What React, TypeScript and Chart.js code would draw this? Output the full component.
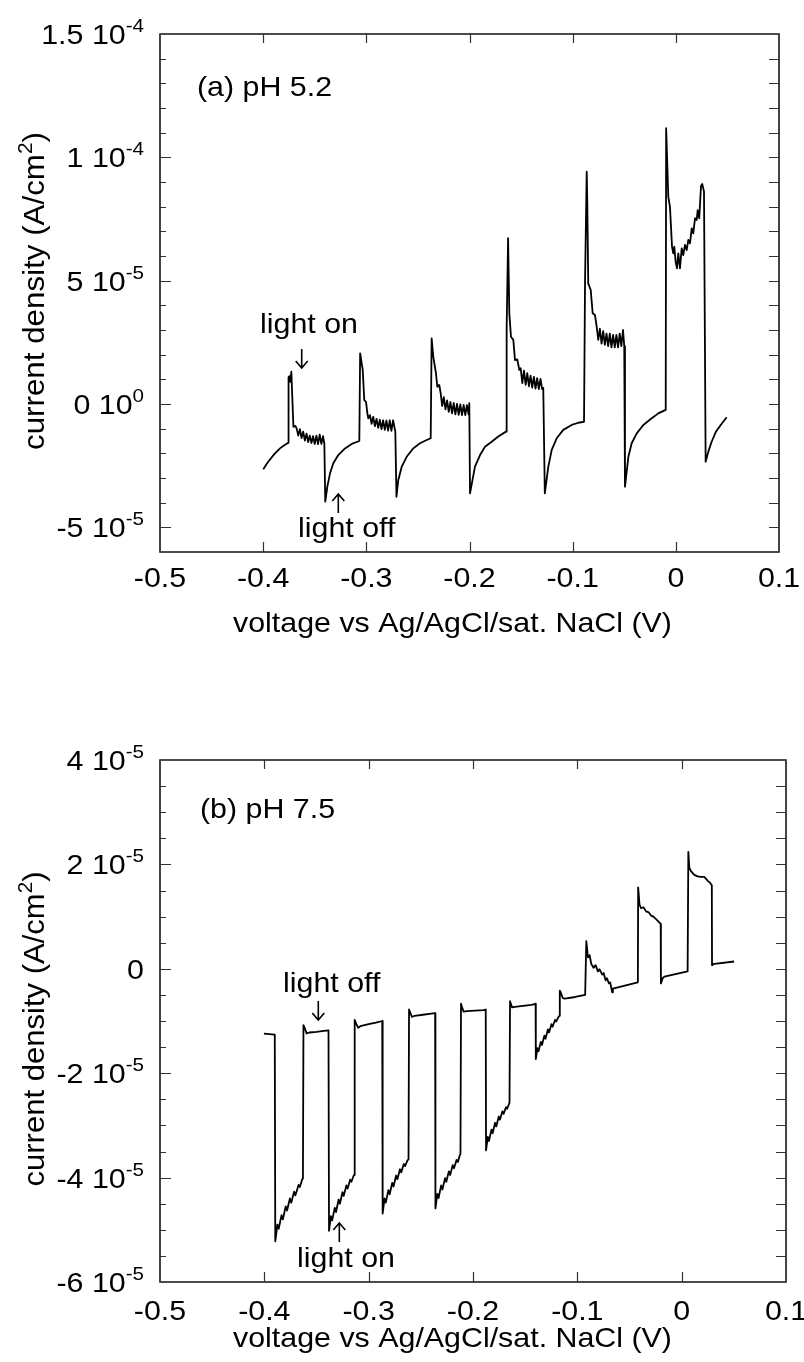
import React, { useEffect, useRef } from "react";
import { Chart, registerables } from "chart.js";

Chart.register(...registerables);

// ---------- DATA ----------
// Panel (a) pH 5.2 : voltage (V vs Ag/AgCl) and current density (units of 1e-5 A/cm²)
const voltageA = [
  -0.3999, -0.397, -0.3934, -0.389, -0.3837, -0.3795, -0.3756,
  -0.3754, -0.3745, -0.3737, -0.3727, -0.3707, -0.3688, -0.3675,
  -0.366, -0.3644, -0.3628, -0.3612, -0.3596, -0.358, -0.3564, -0.3548, -0.3532,
  -0.3516, -0.35, -0.3484, -0.3468, -0.3452, -0.3436, -0.342, -0.3407,
  -0.3398, -0.3378, -0.3352, -0.332, -0.3272, -0.3207, -0.3142, -0.3068,
  -0.306, -0.3035, -0.302, -0.3003, -0.299,
  -0.2981, -0.2965, -0.2949, -0.2933, -0.2917, -0.2901, -0.2885, -0.2869, -0.2853,
  -0.2837, -0.2821, -0.2805, -0.2789, -0.2773, -0.2757, -0.2741, -0.2719,
  -0.2708, -0.269, -0.2657, -0.2609, -0.2545, -0.248, -0.2415, -0.2376,
  -0.2367, -0.2351, -0.2325, -0.2312, -0.2293, -0.2279,
  -0.2265, -0.2249, -0.2233, -0.2217, -0.2201, -0.2185, -0.2169, -0.2153, -0.2137,
  -0.2121, -0.2105, -0.2089, -0.2073, -0.2057, -0.2041, -0.2025, -0.2009, -0.2002,
  -0.1995, -0.1947, -0.1898, -0.185, -0.1785, -0.1721, -0.1646,
  -0.164, -0.1626, -0.1614, -0.1598, -0.1575, -0.1559, -0.1537, -0.1517,
  -0.1504, -0.1488, -0.1472, -0.1456, -0.144, -0.1424, -0.1408, -0.1392,
  -0.1376, -0.136, -0.1344, -0.1328, -0.1312, -0.1296, -0.1285,
  -0.127, -0.1236, -0.1203, -0.1155, -0.1091, -0.101, -0.0945, -0.089,
  -0.088, -0.0864, -0.0858, -0.0849, -0.0825, -0.0806, -0.0784, -0.0767,
  -0.0752, -0.0736, -0.072, -0.0704, -0.0688, -0.0672, -0.0656, -0.064, -0.0624,
  -0.0608, -0.0592, -0.0576, -0.056, -0.0544, -0.0528, -0.0512, -0.05,
  -0.0493, -0.046, -0.0428, -0.0379, -0.0315, -0.0234, -0.017, -0.0098,
  -0.0094, -0.0079, -0.0073, -0.0057, -0.0047, -0.0037, -0.0025, -0.0015, -0.0002,
  0.0011, 0.0024, 0.004, 0.0057, 0.0072, 0.0089, 0.0105, 0.0121, 0.0137, 0.0154,
  0.0169, 0.0186, 0.0202, 0.0212, 0.0227, 0.0244, 0.0256, 0.0273,
  0.0289, 0.0315, 0.0347, 0.0389, 0.0435, 0.0493,
];
const currentA = [
  -2.65, -2.45, -2.25, -2.02, -1.8, -1.67, -1.57,
  1.08, 1.13, 0.9, 1.31, -0.92, -0.89, -1.0,
  -1.28, -1.02, -1.38, -1.12, -1.48, -1.2, -1.54, -1.28, -1.58,
  -1.3, -1.62, -1.28, -1.63, -1.24, -1.62, -1.3, -1.6,
  -3.96, -3.35, -2.81, -2.4, -2.07, -1.8, -1.62, -1.5,
  2.05, 1.38, 0.16, 0.09, -0.38,
  -0.58, -0.45, -0.8, -0.52, -0.9, -0.6, -0.97, -0.64, -1.02,
  -0.66, -1.05, -0.67, -1.08, -0.66, -1.09, -0.66, -1.12,
  -3.76, -3.08, -2.54, -2.14, -1.8, -1.59, -1.46, -1.39,
  2.66, 1.92, 1.24, 0.7, 0.77, 0.43,
  -0.08, 0.28, -0.22, 0.15, -0.32, 0.08, -0.38, 0.04, -0.42,
  0.0, -0.44, -0.02, -0.45, -0.04, -0.45, -0.05, -0.42, 0.03,
  -3.62, -2.54, -2.07, -1.73, -1.53, -1.32, -1.12,
  3.0, 6.72, 3.68, 2.73, 2.59, 1.78, 1.81, 1.38,
  1.45, 0.85, 1.35, 0.78, 1.25, 0.72, 1.15, 0.66,
  1.1, 0.62, 1.05, 0.6, 1.02, 0.6, 0.65,
  -3.62, -2.54, -1.86, -1.39, -1.05, -0.85, -0.76, -0.72,
  5.0, 9.42, 8.13, 4.89, 4.62, 3.68, 3.61, 3.13,
  2.6, 3.05, 2.45, 2.95, 2.4, 2.85, 2.35, 2.85, 2.3,
  2.8, 2.3, 2.8, 2.3, 2.85, 2.35, 3.0, 2.35,
  -3.35, -2.14, -1.59, -1.19, -0.85, -0.58, -0.38, -0.24,
  11.18, 9.21, 8.4, 8.0, 7.19, 6.38, 6.11, 6.38, 5.77,
  5.5, 6.11, 5.5, 6.31, 6.04, 6.45, 6.24, 6.65, 6.51, 7.12,
  6.92, 7.53, 7.46, 7.86, 7.53, 8.84, 8.92, 8.61,
  -2.34, -1.93, -1.53, -1.12, -0.85, -0.54,
];

// Panel (b) pH 7.5 : voltage (V) and current density (units of 1e-5 A/cm²)
const voltageB = [
  -0.4004, -0.39,
  -0.3895, -0.3875, -0.3862, -0.3835, -0.3822, -0.3795, -0.3782, -0.3755,
  -0.3742, -0.3715, -0.3702, -0.3672, -0.366, -0.3635, -0.363,
  -0.3625, -0.361, -0.3595, -0.357, -0.35, -0.343, -0.3385,
  -0.338, -0.3362, -0.335, -0.3325, -0.3313, -0.3288, -0.3276, -0.3251,
  -0.3239, -0.3214, -0.3202, -0.3177, -0.3165, -0.3145, -0.314,
  -0.3134, -0.312, -0.31, -0.308, -0.3, -0.293, -0.287,
  -0.2866, -0.2848, -0.2836, -0.2811, -0.2799, -0.2774, -0.2762, -0.2737,
  -0.2725, -0.27, -0.2688, -0.2663, -0.2651, -0.2628, -0.2618,
  -0.2613, -0.26, -0.2585, -0.256, -0.248, -0.24, -0.2363,
  -0.236, -0.2342, -0.233, -0.2305, -0.2293, -0.2268, -0.2256, -0.2231,
  -0.2219, -0.2194, -0.2182, -0.2157, -0.2145, -0.2128, -0.212,
  -0.2115, -0.2105, -0.209, -0.206, -0.198, -0.19, -0.1878,
  -0.1875, -0.1858, -0.1847, -0.1823, -0.1812, -0.1788, -0.1777, -0.1753,
  -0.1742, -0.1718, -0.1707, -0.1683, -0.1672, -0.1655, -0.165,
  -0.1645, -0.1635, -0.1625, -0.16, -0.152, -0.144, -0.14,
  -0.1398, -0.1383, -0.1372, -0.135, -0.1339, -0.1316, -0.1305, -0.1282,
  -0.1271, -0.1248, -0.1237, -0.1214, -0.1203, -0.118, -0.1172,
  -0.1168, -0.116, -0.114, -0.112, -0.102, -0.0925,
  -0.0914, -0.0898, -0.0882, -0.0866, -0.0844, -0.0825, -0.0803, -0.0787, -0.0761, -0.0748,
  -0.0729, -0.0717, -0.0697, -0.0685, -0.0666, -0.0659, -0.042,
  -0.0417, -0.0404, -0.0389, -0.0366, -0.0341, -0.0315, -0.0293, -0.0271, -0.0245, -0.022, -0.0201,
  -0.0199, -0.0182, -0.0166, 0.0057,
  0.0064, 0.0073, 0.0089, 0.0121, 0.0153, 0.0185, 0.0217, 0.0248, 0.0271, 0.0289,
  0.0291, 0.0296, 0.0503,
];
const currentB = [
  -1.24, -1.26,
  -5.22, -4.9, -4.98, -4.72, -4.8, -4.55, -4.63, -4.4,
  -4.48, -4.27, -4.34, -4.14, -4.18, -4.02, -4.0,
  -1.08, -1.15, -1.24, -1.22, -1.21, -1.19, -1.18,
  -5.02, -4.74, -4.82, -4.58, -4.66, -4.42, -4.5, -4.28,
  -4.35, -4.15, -4.21, -4.04, -4.08, -3.97, -3.95,
  -0.98, -1.05, -1.13, -1.1, -1.06, -1.03, -1.0,
  -4.69, -4.4, -4.48, -4.24, -4.32, -4.1, -4.17, -3.96,
  -4.03, -3.84, -3.9, -3.74, -3.78, -3.67, -3.65,
  -0.78, -0.85, -0.92, -0.9, -0.88, -0.86, -0.85,
  -4.59, -4.31, -4.39, -4.15, -4.23, -4.01, -4.08, -3.88,
  -3.95, -3.76, -3.82, -3.66, -3.7, -3.58, -3.55,
  -0.67, -0.74, -0.82, -0.81, -0.8, -0.79, -0.78,
  -3.48, -3.22, -3.3, -3.08, -3.15, -2.95, -3.02, -2.83,
  -2.89, -2.73, -2.78, -2.65, -2.68, -2.59, -2.57,
  -0.62, -0.68, -0.74, -0.73, -0.71, -0.69, -0.67,
  -1.73, -1.52, -1.58, -1.4, -1.46, -1.28, -1.34, -1.16,
  -1.22, -1.06, -1.11, -0.98, -1.01, -0.92, -0.9,
  -0.42, -0.45, -0.56, -0.57, -0.54, -0.5,
  0.53, 0.22, 0.26, 0.09, 0.02, 0.07, -0.05, -0.01, -0.11, -0.08,
  -0.22, -0.18, -0.28, -0.26, -0.45, -0.38, -0.26,
  1.56, 1.23, 1.16, 1.18, 1.1, 1.08, 1.02, 1.0, 0.95, 0.9, 0.86,
  -0.28, -0.18, -0.15, -0.05,
  2.24, 1.94, 1.87, 1.8, 1.77, 1.76, 1.76, 1.69, 1.65, 1.6,
  0.07, 0.09, 0.14,
];

// Axis ticks and labels
const xTicks = [-0.5, -0.4, -0.3, -0.2, -0.1, 0, 0.1];
const xTickLabels = ["-0.5", "-0.4", "-0.3", "-0.2", "-0.1", "0", "0.1"];
const yTicksA = [-5, 0, 5, 10, 15];
const yTickBasesA = ["-5 10", "0 10", "5 10", "1 10", "1.5 10"];
const yTickExpsA = ["-5", "0", "-5", "-4", "-4"];
const yTicksB = [-6, -4, -2, 0, 2, 4];
const yTickBasesB = ["-6 10", "-4 10", "-2 10", "0", "2 10", "4 10"];
const yTickExpsB = ["-5", "-5", "-5", "", "-5", "-5"];

const xTitle = "voltage vs Ag/AgCl/sat. NaCl (V)";
const yTitleMain = "current density (A/cm";
const yTitleSup = "2";
const yTitleEnd = ")";

// ---------- LAYOUT / STYLE ----------
const W = 804;
const H = 681;
const FONT_FAMILY = '"Liberation Sans", Arial, Helvetica, sans-serif';
const STRETCH = 1.085;
const FS = 28;
const SUP_FS = 19;
const YT_FS = 30;
const YT_SUP_FS = 20;

type Panel = {
  top: number;
  voltage: number[];
  current: number[];
  yMin: number;
  yMax: number;
  yMinorStep: number;
  yMajorStep: number;
  yTicks: number[];
  yBases: string[];
  yExps: string[];
  padding: { left: number; right: number; top: number; bottom: number };
  xLabelBaseline: number;
  xTitleBaseline: number;
  xTitleCenter: number;
  yTitleX: number;
  yTitleCenterY: number;
  yTitleLength: number;
  texts: { t: string; x: number; y: number }[];
  arrows: { x: number; y1: number; y2: number }[]; // y2 = tip
};

const panelA: Panel = {
  top: 0,
  voltage: voltageA,
  current: currentA,
  yMin: -6,
  yMax: 15,
  yMinorStep: 1,
  yMajorStep: 5,
  yTicks: yTicksA,
  yBases: yTickBasesA,
  yExps: yTickExpsA,
  padding: { left: 160, right: 25, top: 34, bottom: 129 },
  xLabelBaseline: 587,
  xTitleBaseline: 632,
  xTitleCenter: 452.5,
  yTitleX: 44,
  yTitleCenterY: 291,
  yTitleLength: 318,
  texts: [
    { t: "(a) pH 5.2", x: 197, y: 96 },
    { t: "light on", x: 260, y: 333 },
    { t: "light off", x: 298, y: 537 },
  ],
  arrows: [
    { x: 301.7, y1: 349, y2: 368 },
    { x: 338.3, y1: 513, y2: 494 },
  ],
};

const panelB: Panel = {
  top: 681,
  voltage: voltageB,
  current: currentB,
  yMin: -6,
  yMax: 4,
  yMinorStep: 0.5,
  yMajorStep: 2,
  yTicks: yTicksB,
  yBases: yTickBasesB,
  yExps: yTickExpsB,
  padding: { left: 160, right: 18, top: 79, bottom: 80 },
  xLabelBaseline: 639,
  xTitleBaseline: 666,
  xTitleCenter: 452.5,
  yTitleX: 44,
  yTitleCenterY: 348,
  yTitleLength: 315,
  texts: [
    { t: "(b) pH 7.5", x: 200, y: 137 },
    { t: "light off", x: 283, y: 310.7 },
    { t: "light on", x: 297, y: 585.7 },
  ],
  arrows: [
    { x: 318.3, y1: 320, y2: 339 },
    { x: 339.3, y1: 561, y2: 542 },
  ],
};

function fillStretched(
  ctx: CanvasRenderingContext2D,
  text: string,
  x: number,
  y: number,
  size: number,
  align: "left" | "center" | "right"
) {
  ctx.font = `${size}px ${FONT_FAMILY}`;
  const w = ctx.measureText(text).width * STRETCH;
  const left = align === "left" ? x : align === "center" ? x - w / 2 : x - w;
  ctx.save();
  ctx.translate(left, y);
  ctx.scale(STRETCH, 1);
  ctx.textAlign = "left";
  ctx.textBaseline = "alphabetic";
  ctx.fillText(text, 0, 0);
  ctx.restore();
  return w;
}

function measureStretched(ctx: CanvasRenderingContext2D, text: string, size: number) {
  ctx.font = `${size}px ${FONT_FAMILY}`;
  return ctx.measureText(text).width * STRETCH;
}

function makePlugin(p: Panel) {
  return {
    id: "frameAndText",
    afterDraw(chart: any) {
      const ctx: CanvasRenderingContext2D = chart.ctx;
      const xs = chart.scales.x;
      const ys = chart.scales.y;
      const a = chart.chartArea;
      ctx.save();
      ctx.fillStyle = "#000";
      // frame
      ctx.lineCap = "butt";
      ctx.strokeStyle = "#111";
      ctx.lineWidth = 1.5;
      ctx.beginPath();
      ctx.moveTo(a.left, a.top);
      ctx.lineTo(a.right, a.top);
      ctx.moveTo(a.left, a.bottom);
      ctx.lineTo(a.right, a.bottom);
      ctx.stroke();
      ctx.strokeStyle = "#444";
      ctx.lineWidth = 2;
      ctx.beginPath();
      ctx.moveTo(a.left, a.top - 0.75);
      ctx.lineTo(a.left, a.bottom + 0.75);
      ctx.moveTo(a.right, a.top - 0.75);
      ctx.lineTo(a.right, a.bottom + 0.75);
      ctx.stroke();

      // x ticks (inward, top and bottom)
      ctx.strokeStyle = "#333";
      ctx.lineWidth = 1.2;
      ctx.beginPath();
      xTicks.forEach((v) => {
        const px = Math.round(xs.getPixelForValue(v)) + 0.5;
        if (px <= a.left + 1 || px >= a.right - 1) return;
        ctx.moveTo(px, a.bottom);
        ctx.lineTo(px, a.bottom - 10);
        ctx.moveTo(px, a.top);
        ctx.lineTo(px, a.top + 9);
      });
      ctx.stroke();

      // y ticks (inward, left and right)
      ctx.beginPath();
      const n = Math.round((p.yMax - p.yMin) / p.yMinorStep);
      for (let i = 1; i < n; i++) {
        const v = p.yMin + i * p.yMinorStep;
        const py = Math.round(ys.getPixelForValue(v)) + 0.5;
        const ratio = v / p.yMajorStep;
        const major = Math.abs(ratio - Math.round(ratio)) < 1e-6;
        ctx.moveTo(a.left, py);
        ctx.lineTo(a.left + (major ? 11 : 6), py);
        ctx.moveTo(a.right, py);
        ctx.lineTo(a.right - 10, py);
      }
      ctx.stroke();

      // x tick labels
      xTicks.forEach((v, i) => {
        fillStretched(ctx, xTickLabels[i], xs.getPixelForValue(v), p.xLabelBaseline, FS, "center");
      });

      // y tick labels with superscript exponents
      p.yTicks.forEach((v, i) => {
        const ty = ys.getPixelForValue(v);
        const base = p.yBases[i];
        const exp = p.yExps[i];
        const wb = measureStretched(ctx, base, FS);
        const we = exp ? measureStretched(ctx, exp, SUP_FS) : 0;
        const right = 144;
        const left = right - wb - we;
        fillStretched(ctx, base, left, ty + 10, FS, "left");
        if (exp) fillStretched(ctx, exp, left + wb, ty - 2, SUP_FS, "left");
      });

      // x title
      fillStretched(ctx, xTitle, p.xTitleCenter, p.xTitleBaseline, FS, "center");

      // y title (rotated, with superscript 2)
      ctx.font = `${YT_FS}px ${FONT_FAMILY}`;
      const w1 = ctx.measureText(yTitleMain).width;
      const w3 = ctx.measureText(yTitleEnd).width;
      ctx.font = `${YT_SUP_FS}px ${FONT_FAMILY}`;
      const w2 = ctx.measureText(yTitleSup).width;
      const total = w1 + w2 + w3;
      const k = p.yTitleLength / total;
      ctx.save();
      ctx.translate(p.yTitleX, p.yTitleCenterY);
      ctx.rotate(-Math.PI / 2);
      ctx.scale(k, 1);
      ctx.textAlign = "left";
      ctx.textBaseline = "alphabetic";
      let cx = -total / 2;
      ctx.font = `${YT_FS}px ${FONT_FAMILY}`;
      ctx.fillText(yTitleMain, cx, 0);
      cx += w1;
      ctx.font = `${YT_SUP_FS}px ${FONT_FAMILY}`;
      ctx.fillText(yTitleSup, cx, -12);
      cx += w2;
      ctx.font = `${YT_FS}px ${FONT_FAMILY}`;
      ctx.fillText(yTitleEnd, cx, 0);
      ctx.restore();

      // annotations
      p.texts.forEach((t) => fillStretched(ctx, t.t, t.x, t.y, FS, "left"));
      ctx.strokeStyle = "#000";
      ctx.lineWidth = 1.6;
      p.arrows.forEach((ar) => {
        const dir = ar.y2 > ar.y1 ? 1 : -1;
        ctx.beginPath();
        ctx.moveTo(ar.x, ar.y1);
        ctx.lineTo(ar.x, ar.y2);
        ctx.moveTo(ar.x - 6, ar.y2 - dir * 7);
        ctx.lineTo(ar.x, ar.y2);
        ctx.lineTo(ar.x + 6, ar.y2 - dir * 7);
        ctx.stroke();
      });
      ctx.restore();
    },
  };
}

function PanelChart({ p }: { p: Panel }) {
  const ref = useRef<HTMLCanvasElement>(null);
  useEffect(() => {
    if (!ref.current) return;
    const data = p.voltage.map((v, i) => ({ x: v, y: p.current[i] }));
    const chart = new Chart(ref.current, {
      type: "line",
      data: {
        datasets: [
          {
            data,
            borderColor: "#000",
            borderWidth: 1.8,
            pointRadius: 0,
            tension: 0,
            fill: false,
            borderJoinStyle: "round",
          } as any,
        ],
      },
      options: {
        responsive: false,
        animation: false,
        devicePixelRatio: 1,
        layout: { padding: p.padding },
        plugins: { legend: { display: false }, tooltip: { enabled: false }, title: { display: false } },
        scales: {
          x: { type: "linear", min: -0.5, max: 0.1, display: false },
          y: { type: "linear", min: p.yMin, max: p.yMax, display: false },
        },
      },
      plugins: [makePlugin(p)],
    });
    return () => chart.destroy();
  }, [p]);
  return (
    <canvas
      ref={ref}
      width={W}
      height={H}
      style={{ position: "absolute", left: 0, top: p.top, width: W, height: H, display: "block" }}
    />
  );
}

export default function App() {
  return (
    <div style={{ position: "absolute", left: 0, top: 0, width: W, height: 2 * H, background: "#fff", overflow: "hidden" }}>
      <PanelChart p={panelA} />
      <PanelChart p={panelB} />
    </div>
  );
}
